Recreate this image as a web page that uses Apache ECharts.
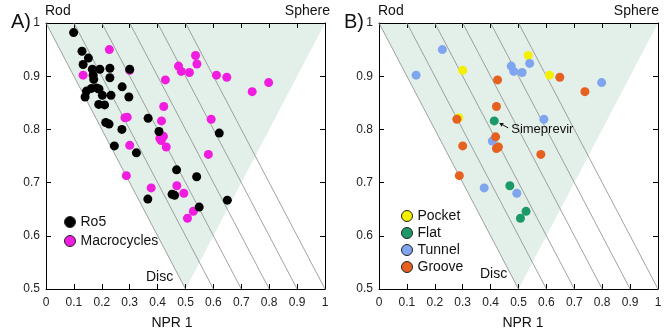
<!DOCTYPE html>
<html><head><meta charset="utf-8">
<script src="https://cdn.jsdelivr.net/npm/echarts@6/dist/echarts.min.js"></script>
<style>html,body{margin:0;padding:0;background:#fff}#c{width:666px;height:336px}</style>
</head><body><div id="c"></div>
<script>
// ---- data ----
const ro5 = [[0.099,0.982],[0.129,0.947],[0.152,0.934],[0.133,0.922],[0.166,0.913],[0.193,0.913],[0.229,0.915],[0.169,0.902],[0.171,0.894],[0.229,0.897],[0.300,0.913],[0.273,0.880],[0.145,0.872],[0.163,0.877],[0.181,0.878],[0.190,0.876],[0.140,0.861],[0.202,0.864],[0.233,0.864],[0.297,0.861],[0.189,0.847],[0.210,0.846],[0.214,0.813],[0.226,0.810],[0.272,0.800],[0.366,0.821],[0.405,0.796],[0.621,0.793],[0.245,0.769],[0.324,0.756],[0.468,0.724],[0.540,0.711],[0.365,0.669],[0.452,0.678],[0.461,0.676],[0.650,0.667],[0.549,0.654]];
const macrocycles = [[0.227,0.950],[0.133,0.902],[0.300,0.911],[0.283,0.822],[0.291,0.823],[0.300,0.770],[0.428,0.893],[0.475,0.919],[0.485,0.909],[0.514,0.907],[0.536,0.939],[0.541,0.923],[0.611,0.902],[0.648,0.898],[0.739,0.871],[0.798,0.888],[0.422,0.843],[0.414,0.816],[0.592,0.819],[0.408,0.783],[0.421,0.787],[0.413,0.779],[0.431,0.767],[0.582,0.753],[0.288,0.713],[0.377,0.690],[0.469,0.694],[0.494,0.680],[0.528,0.646],[0.507,0.633]];
const pocket = [[0.300,0.911],[0.535,0.939],[0.611,0.902],[0.286,0.822]];
const flat = [[0.413,0.816],[0.469,0.694],[0.527,0.646],[0.507,0.633]];
const tunnel = [[0.227,0.950],[0.133,0.902],[0.474,0.919],[0.483,0.909],[0.513,0.907],[0.540,0.924],[0.798,0.888],[0.591,0.819],[0.406,0.778],[0.377,0.690],[0.494,0.680]];
const groove = [[0.425,0.893],[0.648,0.898],[0.738,0.871],[0.421,0.843],[0.279,0.819],[0.418,0.786],[0.300,0.769],[0.421,0.764],[0.428,0.767],[0.580,0.753],[0.288,0.713]];
const triangle = [[0,1],[1,1],[0.5,0.5]];          // PMI triangle (Rod, Sphere, Disc)
const isoSums = [1.0,1.1,1.2,1.3,1.4,1.5];          // lines NPR1 + NPR2 = const
const simeprevirIndex = 0;                           // in flat

const FONT = "'Liberation Sans', Arial, sans-serif";
const chart = echarts.init(document.getElementById('c'), null, {renderer:'canvas'});

function xAx(g, pos, lab){
  return {type:'value', gridIndex:g, position:pos, min:0, max:1, interval:0.1,
    axisLine:{show:true,onZero:false,lineStyle:{color:'#000',width:1}},
    axisTick:{show:true,inside:true,length:5,lineStyle:{color:'#000',width:1}},
    axisLabel:{show:lab,fontSize:12,color:'#222',margin:8,fontFamily:FONT},
    splitLine:{show:false}};
}
function yAx(g, pos, lab){
  return {type:'value', gridIndex:g, position:pos, min:0.5, max:1, interval:0.1,
    axisLine:{show:true,onZero:false,lineStyle:{color:'#000',width:1}},
    axisTick:{show:true,inside:true,length:5,lineStyle:{color:'#000',width:1}},
    axisLabel:{show:lab,fontSize:12,color:'#222',margin:6,fontFamily:FONT},
    splitLine:{show:false}};
}
function triSeries(ai){
  return {type:'custom', xAxisIndex:ai, yAxisIndex:ai, silent:true, z:0, data:[[0,1]],
    renderItem:function(params, api){
      return {type:'polygon', shape:{points:triangle.map(p=>api.coord(p))}, style:{fill:'#e2f0e9'}};
    }};
}
function isoSeries(ai){
  return isoSums.map(s=>({type:'line', xAxisIndex:ai, yAxisIndex:ai, silent:true, z:1,
    symbol:'none', data:[[s-1,1],[s-0.5,0.5]], lineStyle:{color:'#8a8a8a',width:0.8}}));
}
function sc(name, data, color, ai, z){
  return {name:name, type:'scatter', xAxisIndex:ai, yAxisIndex:ai, data:data, symbol:'circle',
    symbolSize:9, z:z, itemStyle:{color:color, opacity:1}};
}

const series = [
  triSeries(0), ...isoSeries(0),
  sc('Macrocycles', macrocycles, '#f01de0', 0, 3),
  sc('Ro5', ro5, '#000000', 0, 4),
  triSeries(2), ...isoSeries(2),
  sc('Pocket', pocket, '#f5f000', 2, 3),
  sc('Flat', flat, '#1b9a68', 2, 4),
  sc('Tunnel', tunnel, '#7fa5ee', 2, 5),
  sc('Groove', groove, '#e6601f', 2, 6)
];

function txt(x, y, s, size, align, extra){
  return Object.assign({type:'text', x:x, y:y, silent:true,
    style:{text:s, fill:'#111', font:size+'px '+FONT, textAlign:align||'left', textVerticalAlign:'middle'}}, extra||{});
}

const option = {
  animation:false,
  backgroundColor:'#fff',
  grid:[{left:46,top:23,width:279,height:266},{left:379,top:23,width:279,height:266}],
  xAxis:[xAx(0,'bottom',true), xAx(0,'top',false), xAx(1,'bottom',true), xAx(1,'top',false)],
  yAxis:[yAx(0,'left',true), yAx(0,'right',false), yAx(1,'left',true), yAx(1,'right',false)],
  legend:[
    {data:['Ro5','Macrocycles'], orient:'vertical', left:59, top:210, itemGap:5, itemWidth:11, itemHeight:11,
     icon:'circle', itemStyle:{borderColor:'#222',borderWidth:1}, textStyle:{fontSize:14,color:'#111',fontFamily:FONT}, selectedMode:false},
    {data:['Pocket','Flat','Tunnel','Groove'], orient:'vertical', left:396, top:204, itemGap:3, itemWidth:11, itemHeight:11,
     icon:'circle', itemStyle:{borderColor:'#222',borderWidth:1}, textStyle:{fontSize:14,color:'#111',fontFamily:FONT}, selectedMode:false}
  ],
  series:series,
  graphic:[
    txt(11,22,'A)',20), txt(344,22,'B)',20),
    txt(45,11,'Rod',14), txt(330,11,'Sphere',14,'right'),
    txt(378,11,'Rod',14), txt(659,11,'Sphere',14,'right'),
    txt(146,277,'Disc',14), txt(480,274,'Disc',14),
    txt(172,323,'NPR 1',14,'center'), txt(523,323,'NPR 1',14,'center'),
    txt(12,160,'NPR 2',14,'center',{rotation:Math.PI/2, originX:12, originY:160}),
    txt(346,160,'NPR 2',14,'center',{rotation:Math.PI/2, originX:346, originY:160})
  ]
};
chart.setOption(option);

// Simeprevir annotation anchored to its data point
const p = chart.convertToPixel({gridIndex:1}, flat[simeprevirIndex]);
const hx = p[0]+5, hy = p[1]+2, tx = p[0]+14, ty = p[1]+7;
const dx = hx-tx, dy = hy-ty, L = Math.hypot(dx,dy), ux = dx/L, uy = dy/L;
const bx = hx-ux*4, by = hy-uy*4;
const g = option.graphic.slice();
g.push({type:'line', silent:true, shape:{x1:tx,y1:ty,x2:bx,y2:by}, style:{stroke:'#111',lineWidth:1}, z:100});
g.push({type:'polygon', silent:true, shape:{points:[[hx,hy],[bx-uy*2.2,by+ux*2.2],[bx+uy*2.2,by-ux*2.2]]}, style:{fill:'#111'}, z:100});
g.push(txt(p[0]+17, p[1]+8.5, 'Simeprevir', 13, 'left', {z:100}));
chart.setOption({graphic:g});
</script>
</body></html>
